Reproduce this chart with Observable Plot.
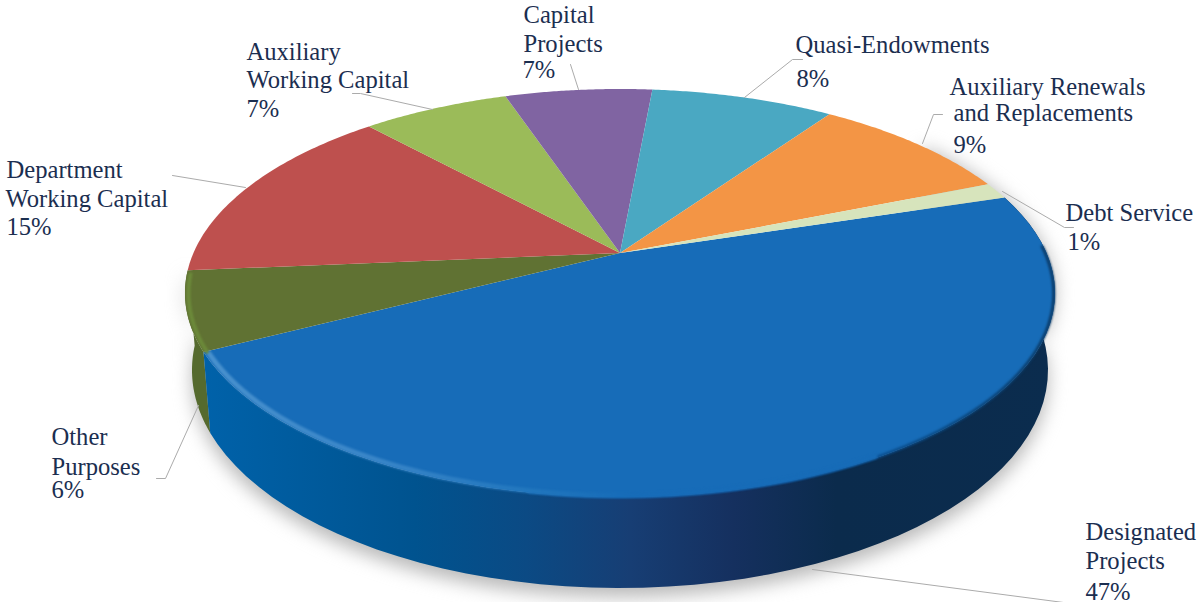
<!DOCTYPE html>
<html><head><meta charset="utf-8">
<style>html,body{margin:0;padding:0;background:#fff}svg{display:block}</style>
<script src="https://cdn.jsdelivr.net/npm/d3@7"></script>
<script src="https://cdn.jsdelivr.net/npm/@observablehq/plot@0.6"></script>
</head><body><div id="chart"></div>
<script>
// Data, clockwise from the start of the largest slice
const categories = ["Designated Projects","Other Purposes","Department Working Capital","Auxiliary Working Capital","Capital Projects","Quasi-Endowments","Auxiliary Renewals and Replacements","Debt Service"];
const shares = [47.2, 6.2, 14.6, 6.6, 6.6, 8.2, 9.2, 1.3];
const colors = ["#176CB8","#607233","#BE504E","#9BBB59","#8064A2","#4AA8C2","#F39545","#D7E4BC"];

// Layout
const W = 1198, H = 602;
const startAngle = 72.6;
const top_ = {cx:620, cy:293, rx:435, ry:204};
const bottom_ = {cx:620, cy:370, rx:428, ry:218};
const apexShift = 40/204;
const labelFont = 'Liberation Serif, "Times New Roman", serif', labelColor = "#1B2E50", leaderColor = "#ABABAB";

const labelLines = [
  ["Department",6,177],["Working Capital",5,206],["15%",6,234],
  ["Auxiliary",246,59],["Working Capital",246,87],["7%",246,116],
  ["Capital",523,22],["Projects",523,51],["7%",522,77],
  ["Quasi-Endowments",795,52],["8%",796,86],
  ["Auxiliary Renewals",949,94],["and Replacements",953,120.5],["9%",953,152],
  ["Debt Service",1065,220],["1%",1067,249],
  ["Other",51,444],["Purposes",51,474],["6%",51,497],
  ["Designated",1085,539],["Projects",1085,568],["47%",1085,599]
].map(([text,x,y])=>({text,x,y}));
const leaders = [
  [[172,175],[245,187]],
  [[352,93],[360,93],[432,109]],
  [[570,64],[578,89]],
  [[802,59],[792,59],[744,97]],
  [[942,114],[933,114],[922,143]],
  [[1073,227],[1064,227],[1002,191]],
  [[156,478],[165,478],[198,405]],
  [[812,569],[1063,602]]
].flatMap((pts,i)=>pts.map(([x,y])=>({x,y,i})));

// Perspective: the circle's centre lands above the ellipse's centre
const total = d3.sum(shares);
function point(e, deg){
  const a = deg*Math.PI/180, X = Math.sin(a), Y = -Math.cos(a), d = apexShift, den = 1 - d*Y;
  return [e.cx + e.rx*X*Math.sqrt(1-d*d)/den, e.cy + e.ry*(Y-d)/den];
}
const cum = [0, ...d3.cumsum(shares)];
const span = i => [startAngle + cum[i]/total*360, startAngle + cum[i+1]/total*360];
const angles = (a0,a1) => d3.range(0,61).map(k=>a0+(a1-a0)*k/60);
const apex = e => [e.cx, e.cy - e.ry*apexShift];

function wedge(i){
  const [a0,a1] = span(i), c = apex(top_);
  return angles(a0,a1).map(a=>{const p=point(top_,a);return {x1:c[0],y1:c[1],x2:p[0],y2:p[1]};});
}
function wall(a0,a1){
  return angles(a0,a1).map(a=>{const p=point(top_,a),q=point(bottom_,a);return {x1:p[0],y1:p[1],x2:q[0],y2:q[1]};});
}
function inset(a0,a1,k){
  const c = apex(top_);
  return angles(a0,a1).map(a=>{const p=point(top_,a);return {x:c[0]+(p[0]-c[0])*k,y:c[1]+(p[1]-c[1])*k};});
}
const area = (rows,fill,extra={}) => Plot.area(rows,{x1:"x1",y1:"y1",x2:"x2",y2:"y2",fill,...extra});

const defs = () => {
  const s = d3.create("svg:defs");
  const grad = (id,stops)=>{
    const g = s.append("linearGradient").attr("id",id).attr("gradientUnits","userSpaceOnUse")
      .attr("x1",200).attr("x2",1060).attr("y1",0).attr("y2",0);
    stops.forEach(([o,c])=>g.append("stop").attr("offset",o).attr("stop-color",c));
  };
  grad("sideBlue",[[0,"#0062AA"],[.25,"#00538F"],[.38,"#0B4A84"],[.5,"#173E74"],[.62,"#15305F"],[.74,"#0B2B4C"],[1,"#0B2C4E"]]);
  grad("rimLight",[[0,"#4A92CE"],[.2,"#3A86C8"],[.38,"#2277BE"],[.5,"#176CB8"],[1,"#176CB8"]]);
  grad("rimDark",[[0,"#176CB8"],[.5,"#1264B0"],[.7,"#0B55A0"],[.85,"#0A4A84"],[1,"#0B3A66"]]);
  return s.node();
};

const [b0,b1] = span(0), [g0,g1] = span(1);
const marks = [
  defs,
  // soft shadow beneath the disc
  area(wall(b0-20,g1).map(d=>({x1:d.x1,y1:d.y1,x2:d.x2,y2:d.y2+9})),"#B9B9B9",{imageFilter:"blur(9px)"}),
  area(wall(g0,g1),"#556A2E"),
  area(wall(b0,b1),"url(#sideBlue)"),
  ...shares.map((_,i)=>area(wedge(i),colors[i])),
  Plot.line(inset(88,190,.996),{x:"x",y:"y",stroke:"url(#rimDark)",strokeWidth:3,imageFilter:"blur(1px)"}),
  Plot.line(inset(150,b1-.5,.991),{x:"x",y:"y",stroke:"url(#rimLight)",strokeWidth:5,imageFilter:"blur(1.2px)"}),
  Plot.line(inset(g0,g1-1,.993),{x:"x",y:"y",stroke:"#6C8A3A",strokeWidth:4,imageFilter:"blur(1.2px)"}),
  Plot.line(leaders,{x:"x",y:"y",z:"i",stroke:leaderColor,strokeWidth:1}),
  Plot.text(labelLines,{x:"x",y:"y",text:"text",textAnchor:"start",lineAnchor:"bottom",fontSize:24.6,fontFamily:labelFont,fill:labelColor})
];
const chart = Plot.plot({
  width:W,height:H,margin:0,
  x:{domain:[0,W],range:[0,W],axis:null},
  y:{domain:[0,H],range:[0,H],axis:null},
  style:{background:"#fff"},
  marks
});
document.getElementById("chart").append(chart);
</script></body></html>
